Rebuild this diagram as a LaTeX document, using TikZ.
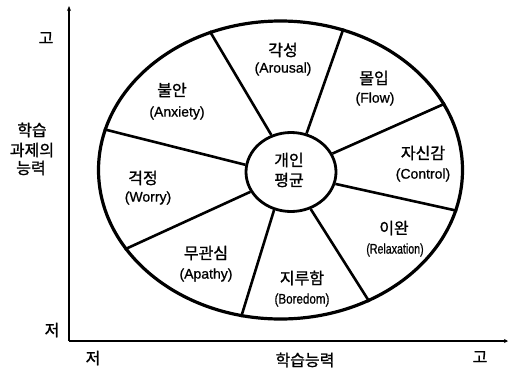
\documentclass[tikz,border=0pt]{standalone}
\usepackage{fontspec}
\setmainfont[FakeBold=0.8]{Liberation Sans}
\newfontfamily\kr[FakeBold=1.2]{Noto Sans CJK KR}
\usetikzlibrary{shapes.geometric,arrows.meta}
\tikzset{
  krlab/.style={inner sep=0pt, font=\kr\fontsize{16}{18}\selectfont},
  enlab/.style={inner sep=0pt, font=\fontsize{14}{17}\selectfont},
  spoke/.style={line width=2.6pt},
  axis/.style={line width=2.2pt}
}
\begin{document}
\begin{tikzpicture}[x=1pt,y=-1pt]
\useasboundingbox (0,0) rectangle (510,370);
% outer ellipse and inner circle
\node[draw, ellipse, line width=3.2pt, minimum width=364pt, minimum height=298pt, inner sep=0pt] (E) at (280.5,170) {};
\node[draw, ellipse, line width=2.8pt, minimum width=90pt, minimum height=79pt, inner sep=0pt] (C) at (291,172) {};
% spokes
\draw[spoke] (C.118) -- (E.117);
\draw[spoke] (C.68) -- (E.66);
\draw[spoke] (C.24) -- (E.22.4);
\draw[spoke] (C.-15) -- (E.-13.8);
\draw[spoke] (C.-62) -- (E.-56.5);
\draw[spoke] (C.-114) -- (E.-105.4);
\draw[spoke] (C.-154) -- (E.-153.4);
\draw[spoke] (C.171) -- (E.167.4);
% centre text
\node[krlab] (c1) at (289,160) {개인};
\node[krlab] (c2) at (289,180) {평균};
% segment labels
\node[krlab] (aK) at (283,50) {각성};
\node[enlab] (aE) at (283,69) {(Arousal)};
\node[krlab] (fK) at (374,78) {몰입};
\node[enlab] (fE) at (375,99) {(Flow)};
\node[krlab] (ctK) at (423,153) {자신감};
\node[enlab] (ctE) at (423,175) {(Control)};
\node[krlab] (rK) at (394,228) {이완};
\node[enlab] (rE) at (395,250) {\scalebox{0.76}[1]{(Relaxation)}};
\node[krlab] (bK) at (302,278) {지루함};
\node[enlab] (bE) at (302,300) {\scalebox{0.83}[1]{(Boredom)}};
\node[krlab] (pK) at (206,253) {무관심};
\node[enlab] (pE) at (206,275) {(Apathy)};
\node[krlab] (wK) at (143,178) {걱정};
\node[enlab] (wE) at (148,198) {(Worry)};
\node[krlab] (xK) at (172,90) {불안};
\node[enlab] (xE) at (177,113) {(Anxiety)};
% axes
\coordinate (O) at (69,341);
\coordinate (Yt) at (69,6);
\coordinate (Xe) at (508,341);
\draw[axis, -{Stealth[length=5pt,width=4pt]}] (O) -- (Yt);
\draw[axis, -{Stealth[length=4pt,width=4pt]}] (O) -- (Xe);
% axis labels
\node[krlab] (yhi) at (46,38) {고};
\node[krlab] (yl1) at (32,130) {학습};
\node[krlab] (yl2) at (32,150) {과제의};
\node[krlab] (yl3) at (31,168) {능력};
\node[krlab] (ylo) at (52,330) {저};
\node[krlab] (xlo) at (93,358) {저};
\node[krlab] (xl) at (305,360) {학습능력};
\node[krlab] (xhi) at (480,357) {고};
\end{tikzpicture}
\end{document}
